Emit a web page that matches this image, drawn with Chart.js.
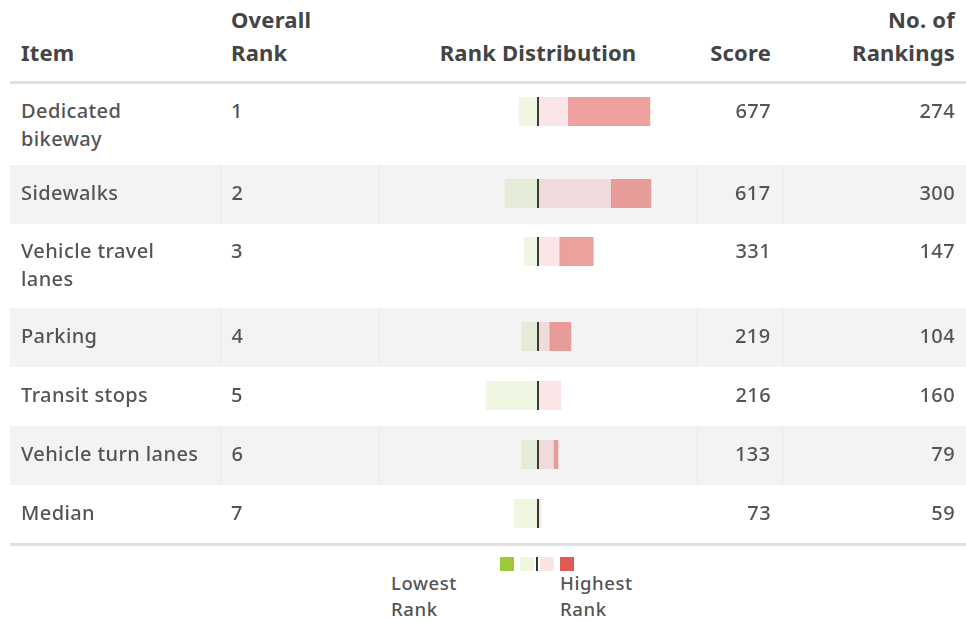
<!DOCTYPE html>
<html>
<head>
<meta charset="utf-8">
<script src="https://cdn.jsdelivr.net/npm/chart.js@4.4.1/dist/chart.umd.min.js"></script>
<style>
  html, body { margin: 0; padding: 0; background: #fff; }
  body { width: 966px; height: 622px; overflow: hidden; font-family: "Noto Sans", sans-serif; color: #545454; }
  table { position: absolute; left: 10px; top: 0; width: 956px; border-collapse: collapse; table-layout: fixed; }
  th { font-weight: 700; font-size: 22px; letter-spacing: 0.2px; color: #444; line-height: 33px; vertical-align: bottom; padding: 0 11px 12px 11px; height: 82px; box-sizing: border-box; text-align: left; border-bottom: 3px solid #e0e0e0; }
  td { font-size: 20px; font-weight: 500; letter-spacing: 0.4px; line-height: 28px; vertical-align: top; padding: 14px 11px 0 11px; box-sizing: border-box; white-space: nowrap; }
  tbody tr.tall td { padding-top: 13px; }
  tbody tr:nth-child(even) td { background: #f3f3f3; border-left: 1px solid #e8e8e8; }
  tbody tr:nth-child(even) td:first-child { border-left: none; }
  tbody tr:last-child td { border-bottom: 3px solid #e0e0e0; }
  .r { text-align: right; }
  .c { text-align: center; }
  td.dist { padding-left: 0; padding-right: 0; }
  .cv { display: block; margin: 0 auto; }
  #legend { position: absolute; left: 0; top: 0; }
  .sw { position: absolute; top: 557px; width: 14px; height: 14px; }
  .lt { position: absolute; font-size: 18.5px; font-weight: 500; letter-spacing: 0.6px; line-height: 24px; color: #545454; white-space: nowrap; }
</style>
</head>
<body>
<table>
  <colgroup>
    <col style="width:210px"><col style="width:159px"><col style="width:318px"><col style="width:85px"><col style="width:184px">
  </colgroup>
  <thead>
    <tr>
      <th>Item</th>
      <th>Overall<br>Rank</th>
      <th class="c">Rank Distribution</th>
      <th class="r">Score</th>
      <th class="r">No. of<br>Rankings</th>
    </tr>
  </thead>
  <tbody id="tb"></tbody>
</table>
<div id="legend">
  <div class="sw" style="left:500px;background:#9bc93a"></div>
  <div class="sw" style="left:520px;background:#eef6df"></div>
  <div class="sw" style="left:536px;width:2px;background:#333"></div>
  <div class="sw" style="left:540px;background:#fae3e3"></div>
  <div class="sw" style="left:560px;background:#e05a54"></div>
  <div class="lt" style="left:391px;top:571px">Lowest</div>
  <div class="lt" style="left:391px;top:597px">Rank</div>
  <div class="lt" style="left:560px;top:571px">Highest</div>
  <div class="lt" style="left:560px;top:597px">Rank</div>
</div>
<script>
const items = ["Dedicated<br>bikeway", "Sidewalks", "Vehicle travel<br>lanes", "Parking", "Transit stops", "Vehicle turn lanes", "Median"];
const overallRank = [1, 2, 3, 4, 5, 6, 7];
const scores = [677, 617, 331, 219, 216, 133, 73];
const numRankings = [274, 300, 147, 104, 160, 79, 59];
// rank distribution counts (lowest ranks to the left, highest to the right)
const lowestRank  = [0, 0, 0, 0, 0, 0, 0];
const lowRank     = [40, 69, 29, 34, 109, 34, 50];
const highRank    = [64, 154, 46, 25, 48, 34, 6];
const highestRank = [171, 83, 70, 44, 0, 8, 0];
const axisMax = 315;

const rowHeights = [83, 59, 84, 59, 59, 59, 59];
const tb = document.getElementById('tb');
items.forEach((it, i) => {
  const tr = document.createElement('tr');
  tr.style.height = rowHeights[i] + 'px';
  if (it.includes('<br>')) tr.className = 'tall';
  tr.innerHTML = `<td>${it}</td><td>${overallRank[i]}</td><td class="dist"><canvas class="cv" id="cv${i}" width="300" height="29"></canvas></td><td class="r">${scores[i]}</td><td class="r">${numRankings[i]}</td>`;
  tb.appendChild(tr);
});

const centerLine = {
  id: 'centerLine',
  afterDatasetsDraw(chart) {
    const x = chart.scales.x.getPixelForValue(0);
    const a = chart.chartArea;
    const ctx = chart.ctx;
    ctx.save();
    ctx.fillStyle = '#3a3a2e';
    ctx.fillRect(Math.round(x) - 1, a.top, 2, a.bottom - a.top);
    ctx.restore();
  }
};

const v = (n, sign) => n === 0 ? null : sign * n;

items.forEach((it, i) => {
  new Chart(document.getElementById('cv' + i), {
    type: 'bar',
    data: {
      labels: [it.replace('<br>', ' ')],
      datasets: [
        { label: 'Low', data: [v(lowRank[i], -1)], backgroundColor: 'rgba(150,200,60,0.15)' },
        { label: 'Lowest', data: [v(lowestRank[i], -1)], backgroundColor: 'rgba(150,200,60,0.55)' },
        { label: 'High', data: [v(highRank[i], 1)], backgroundColor: 'rgba(224,90,84,0.15)' },
        { label: 'Highest', data: [v(highestRank[i], 1)], backgroundColor: 'rgba(224,90,84,0.57)' }
      ]
    },
    options: {
      indexAxis: 'y',
      responsive: false,
      animation: false,
      layout: { padding: 0 },
      datasets: { bar: { barPercentage: 1, categoryPercentage: 1, borderWidth: 0 } },
      scales: {
        x: { display: false, stacked: true, min: -axisMax, max: axisMax },
        y: { display: false, stacked: true }
      },
      plugins: { legend: { display: false }, tooltip: { enabled: false } }
    },
    plugins: [centerLine]
  });
});
</script>
</body>
</html>
